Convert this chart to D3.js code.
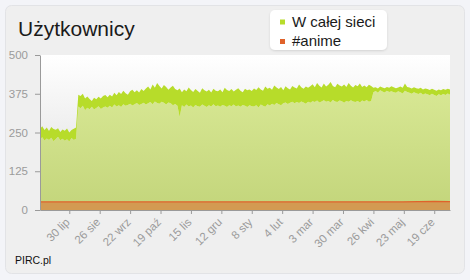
<!DOCTYPE html>
<html>
<head>
<meta charset="utf-8">
<script src="https://cdn.jsdelivr.net/npm/d3@7.9.0/dist/d3.min.js"></script>
<style>
  body { margin: 0; background: #f3f4f8; font-family: "Liberation Sans", Arial, sans-serif; }
  svg { display: block; }
</style>
</head>
<body>
<svg id="chart" width="470" height="280"></svg>
<script>
// sampled every 2 days from 4 Jul 2008, upper and lower edge of the noisy band
const startDate = new Date(2008, 6, 4);
const stepDays = 2;
const hiVals = [
  262,270,258,266,255,268,261,259,264,252,260,256,263,250,258,262,266,
  372,
  368,375,360,366,358,352,362,357,365,360,368,371,364,
  372,366,378,370,381,374,385,377,372,383,388,380,386,379,390,384,392,
  398,389,405,394,410,400,392,403,397,388,395,401,390,
  386,392,380,389,383,395,387,381,390,384,378,393,386,382,388,379,391,385,383,389,
  380,394,387,384,390,382,388,393,385,380,391,386,389,384,
  392,387,396,389,385,398,391,394,388,402,395,390,397,386,399,393,389,400,395,392,
  405,396,391,398,394,
  399,406,396,410,401,395,408,398,404,413,400,396,407,402,398,405,397,410,401,395,
  403,399,408,397,402,396,404,400,
  394,396,392,398,395,393,397,394,399,396,393,395,398,394,408,397,395,392,396,393,
  391,394,389,392,390,387,391,388,385,389,386,390,388,391,389
];
const loVals = [
  228,235,224,231,226,233,222,229,236,225,230,223,228,221,232,226,230,
  334,
  328,336,322,330,325,333,324,329,335,326,331,334,330,
  336,331,340,334,338,332,341,336,339,343,337,341,345,339,342,346,340,
  344,348,341,350,345,343,349,346,340,347,344,338,342,
  336,300,338,332,340,334,337,331,339,335,333,340,336,332,338,334,341,335,337,333,
  339,336,332,338,335,340,334,337,333,339,336,332,338,335,
  334,338,331,340,336,333,341,337,343,339,345,341,338,344,347,342,346,349,344,348,
  345,350,347,343,349,
  346,351,348,353,347,350,354,349,352,347,355,350,348,353,351,346,352,349,354,350,
  348,352,347,353,350,355,349,352,
  380,384,378,386,382,379,385,381,383,380,378,383,380,376,385,381,378,375,380,377,
  374,378,372,376,373,370,375,371,368,373,370,374,371,376,372
];
// #anime, sampled every 14 days
const animeStep = 14;
const animeVals = [26,26,26,26,26,26,26,26,26,26,26,26,26,26,26,26,26,26,26,26,26,26,26,26,27,28,27];

const yTicks = [0, 125, 250, 375, 500];
const xTickDates = ['2008-07-30','2008-08-26','2008-09-22','2008-10-19','2008-11-15','2008-12-12',
  '2009-01-08','2009-02-04','2009-03-03','2009-03-30','2009-04-26','2009-05-23','2009-06-19'];
const xTickLabels = ['30 lip','26 sie','22 wrz','19 paź','15 lis','12 gru','8 sty','4 lut',
  '3 mar','30 mar','26 kwi','23 maj','19 cze'];
const seriesNames = ['W całej sieci', '#anime'];
const seriesColors = ['#b7dc2a', '#e0622a'];

const svg = d3.select('#chart');
const m = { left: 40, right: 450, top: 55, bottom: 210 };

const addDays = (n) => d3.timeDay.offset(startDate, n);
const main = hiVals.map((h, i) => ({ date: addDays(i * stepDays), hi: h, lo: loVals[i] }));
const anime = animeVals.map((v, i) => ({ date: addDays(i * animeStep), v }));

const x = d3.scaleTime()
  .domain([startDate, addDays((hiVals.length - 1) * stepDays)])
  .range([m.left, m.right]);
const y = d3.scaleLinear().domain([0, 500]).range([m.bottom, m.top]);

// gradients
const defs = svg.append('defs');
const g1 = defs.append('linearGradient').attr('id', 'bg').attr('x1', 0).attr('y1', 0).attr('x2', 0).attr('y2', 1);
g1.append('stop').attr('offset', 0).attr('stop-color', '#ffffff');
g1.append('stop').attr('offset', 1).attr('stop-color', '#dcdcdc');
const g2 = defs.append('linearGradient').attr('id', 'fillg').attr('gradientUnits', 'userSpaceOnUse')
  .attr('x1', 0).attr('y1', y(400)).attr('x2', 0).attr('y2', y(0));
g2.append('stop').attr('offset', 0).attr('stop-color', '#d8e894');
g2.append('stop').attr('offset', 1).attr('stop-color', '#c3d57b');
const sh = defs.append('filter').attr('id', 'shadow').attr('x', -0.1).attr('y', -0.2).attr('width', 1.2).attr('height', 1.5);
sh.append('feDropShadow').attr('dx', 0).attr('dy', 1).attr('stdDeviation', 1).attr('flood-color', '#000').attr('flood-opacity', 0.12);

// card
svg.append('rect').attr('x', 5.5).attr('y', 5.5).attr('width', 459).attr('height', 268)
  .attr('rx', 6).attr('fill', '#efefef').attr('stroke', '#e2e3e6');

svg.append('text').attr('x', 18).attr('y', 36).attr('font-size', 21).attr('fill', '#1a1a1a')
  .text('Użytkownicy');

// plot background
svg.append('rect').attr('x', m.left).attr('y', m.top)
  .attr('width', m.right - m.left).attr('height', m.bottom - m.top).attr('fill', 'url(#bg)');

// main series: fill below band, then the band
svg.append('path').datum(main)
  .attr('fill', 'url(#fillg)')
  .attr('d', d3.area().x(d => x(d.date)).y0(y(0)).y1(d => y(d.lo)));
svg.append('path').datum(main)
  .attr('fill', seriesColors[0])
  .attr('d', d3.area().x(d => x(d.date)).y0(d => y(d.lo)).y1(d => y(d.hi)));

// #anime
svg.append('path').datum(anime)
  .attr('fill', '#d39a52')
  .attr('d', d3.area().x(d => x(d.date)).y0(y(0)).y1(d => y(d.v)));
svg.append('path').datum(anime)
  .attr('fill', 'none').attr('stroke', seriesColors[1]).attr('stroke-width', 1.3)
  .attr('d', d3.line().x(d => x(d.date)).y(d => y(d.v)));

// axes
const yAxis = svg.append('g').attr('transform', `translate(${m.left},0)`)
  .call(d3.axisLeft(y).tickValues(yTicks).tickSize(5).tickPadding(7).tickSizeOuter(0));
const xAxis = svg.append('g').attr('transform', `translate(0,${m.bottom})`)
  .call(d3.axisBottom(x).tickValues(xTickDates.map(d => d3.timeParse('%Y-%m-%d')(d)))
    .tickFormat((d, i) => xTickLabels[i]).tickSize(4).tickSizeOuter(0));
[yAxis, xAxis].forEach(a => {
  a.select('.domain').attr('stroke', '#9a9a9a');
  a.selectAll('.tick line').attr('stroke', '#9a9a9a');
  a.selectAll('text').attr('fill', '#9b9b9b').attr('font-size', 11.5)
    .attr('font-family', '"Liberation Sans", Arial, sans-serif');
});
xAxis.selectAll('text')
  .attr('text-anchor', 'end')
  .attr('dy', '0.35em')
  .attr('transform', 'translate(-2,10) rotate(-45)')
  .attr('y', 0).attr('x', 0);

// legend
const lg = svg.append('g');
lg.append('rect').attr('x', 270).attr('y', 10).attr('width', 117).attr('height', 40)
  .attr('rx', 5).attr('fill', '#fff').attr('filter', 'url(#shadow)');
seriesNames.forEach((name, i) => {
  const yy = 22 + i * 19.5;
  lg.append('rect').attr('x', 280).attr('y', yy - 2.5).attr('width', 5).attr('height', 5)
    .attr('fill', seriesColors[i]);
  lg.append('text').attr('x', 292).attr('y', yy + 4.5).attr('font-size', 15).attr('fill', '#1a1a1a')
    .text(name);
});

svg.append('text').attr('x', 15).attr('y', 264).attr('font-size', 10.5).attr('fill', '#111')
  .text('PIRC.pl');
</script>
</body>
</html>
